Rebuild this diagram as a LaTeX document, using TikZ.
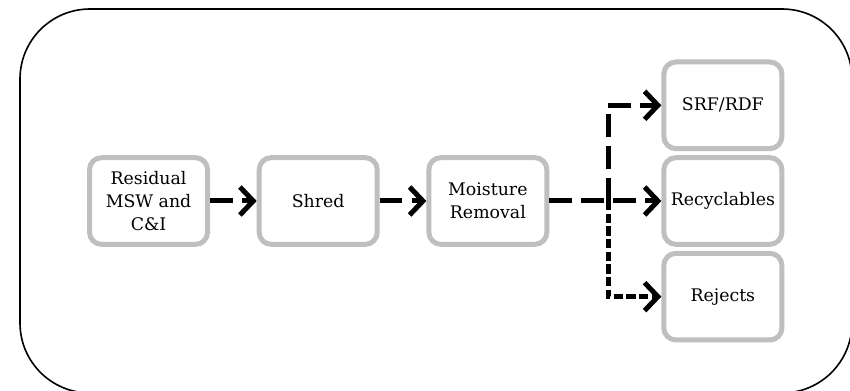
\documentclass[tikz,border=0pt]{standalone}
\usepackage{fontspec}
\setmainfont{DejaVu Serif}
\usetikzlibrary{positioning, arrows.meta}
\tikzstyle{stage} = [rectangle, rounded corners=9pt, draw=black!25, line width=3.75pt, minimum width=88.5pt, minimum height=65pt, inner sep=2pt, align=center, font=\fontsize{13}{17.5}\selectfont]
\tikzstyle{flow} = [line width=3.75pt, dash pattern=on 17pt off 7pt, -{Straight Barb[length=10pt,width=21pt]}]
\tikzstyle{flowdot} = [flow, dash pattern=on 7pt off 2.5pt]

\begin{document}
\begin{tikzpicture}

    \useasboundingbox (0,0) rectangle (637.5pt,-293.25pt);

    % Frame
    \draw [line width=1.2pt, rounded corners=52.5pt] (15pt,-6.75pt) rectangle (639pt,-294.75pt);

    % Nodes
    \node (residual) [stage] at (111.4pt,-150.75pt) {Residual\\MSW and\\C\&I};
    \node (shred) [stage, right=35pt of residual] {Shred};
    \node (moisture) [stage, right=35pt of shred] {Moisture\\Removal};
    \node (recyclables) [stage, right=84pt of moisture] {Recyclables};
    \node (srf) [stage, above=3pt of recyclables] {SRF/RDF};
    \node (rejects) [stage, below=3pt of recyclables] {Rejects};
    \coordinate [right=44pt of moisture] (split);

    % Arrows
    \draw [flow] (residual) -- (shred);
    \draw [flow] (shred) -- (moisture);
    \draw [flow] (moisture) -- (recyclables);
    \draw [flow] (split) |- (srf);
    \draw [flowdot] (split) |- (rejects);

\end{tikzpicture}
\end{document}
